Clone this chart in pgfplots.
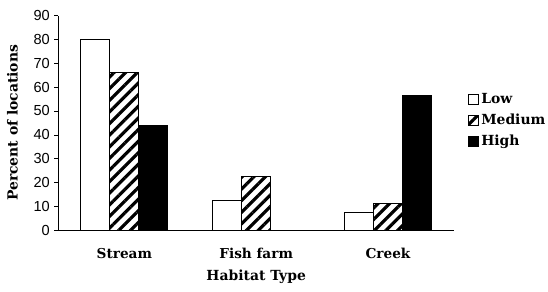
\documentclass[border={2pt 2pt 0pt 4.5pt}]{standalone}
\usepackage{pgfplots}
\pgfplotsset{compat=1.18}
\usepackage{fontspec}
\setmainfont{DejaVu Serif}
\newfontfamily\ticksfont{Liberation Sans}
\usetikzlibrary{patterns.meta}
\begin{document}
\begin{tikzpicture}
\begin{axis}[
  width=298.5pt, height=162pt, scale only axis,
  axis lines*=left,
  xmin=0, xmax=3, ymin=0, ymax=90,
  ytick={0,10,...,90},
  yticklabel style={font=\ticksfont\fontsize{11}{13}\selectfont},
  /pgf/number format/assume math mode=true,
  xtick={0.5,1.5,2.5},
  xticklabels={Stream, Fish farm, Creek},
  xticklabel style={font=\bfseries\fontsize{10.3}{12}\selectfont, yshift=-7pt},
  x tick style={draw=none},
  extra x ticks={0,1,2,3},
  extra x tick labels={},
  extra x tick style={tick align=inside, major tick length=3pt, tick style={draw=black}},
  y tick style={black},
  tick align=outside,
  major tick length=3pt,
  xlabel={\bfseries Habitat Type},
  ylabel={\bfseries Percent of locations},
  xlabel style={font=\bfseries\fontsize{10.5}{12}\selectfont, yshift=1pt},
  ylabel style={font=\bfseries\fontsize{10.5}{12}\selectfont, yshift=5pt},
  ybar=0pt, bar width=0.22,
  legend style={at={(1.035,0.665)}, anchor=north west, draw=none, fill=none,
    inner xsep=0pt, outer xsep=0pt,
    font=\bfseries\fontsize{10.5}{12}\selectfont, row sep=2.6pt},
  legend cell align=left,
  legend image code/.code={\draw[#1, line width=0.6pt] (0pt,-3.8pt) rectangle (7.6pt,3.8pt);},
]
\addplot[draw=black, line width=0.8pt, fill=white] coordinates {(0.5,80) (1.5,12.3) (2.5,7.6)};
\addplot[draw=black, line width=0.8pt, pattern={Lines[angle=45,distance=6.2pt,line width=2.4pt]}, pattern color=black] coordinates {(0.5,66.3) (1.5,22.5) (2.5,11.2)};
\addplot[draw=black, line width=0.8pt, fill=black] coordinates {(0.5,43.8) (2.5,56.4)};
\legend{Low, Medium, High}
\end{axis}
\end{tikzpicture}
\end{document}
